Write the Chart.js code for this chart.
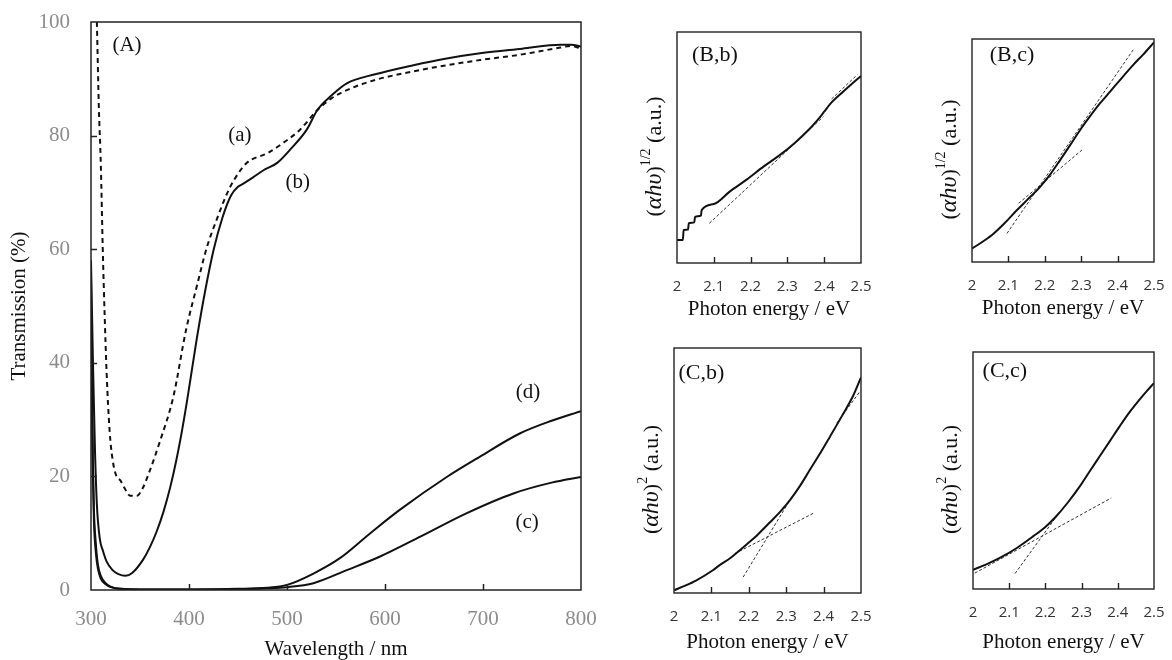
<!DOCTYPE html>
<html>
<head>
<meta charset="utf-8">
<script src="https://cdn.jsdelivr.net/npm/chart.js@4/dist/chart.umd.min.js"></script>
<style>
  body { margin: 0; background: #fff; width: 1172px; height: 660px; overflow: hidden; position: relative; }
  canvas { position: absolute; }
</style>
</head>
<body>
<canvas id="chartA" width="625" height="660" style="left:0;top:0"></canvas>
<canvas id="chartBb" width="254" height="320" style="left:627px;top:0"></canvas>
<canvas id="chartBc" width="250" height="319" style="left:922px;top:0"></canvas>
<canvas id="chartCb" width="257" height="333" style="left:624px;top:320px"></canvas>
<canvas id="chartCc" width="249" height="333" style="left:923px;top:320px"></canvas>
<script>
// transmission spectra, wavelength in nm, transmission in %
var waveA  = [306, 308, 310, 312, 314, 316, 319, 322, 326, 330, 334, 340, 347, 353, 360, 370, 384, 397, 408, 418, 430, 438, 446, 459, 480, 496, 513, 531, 545, 561, 590, 629, 660, 697, 740, 779, 790, 800];
var transA = [100, 85, 75, 60, 48, 38, 28, 23, 20, 19.3, 18, 16.6, 16.6, 18, 21, 26, 34, 45.8, 53.5, 60.2, 66, 69.5, 72.2, 75.2, 76.9, 78.7, 81, 84.5, 86.5, 88, 89.8, 91.3, 92.3, 93.3, 94.3, 95.5, 95.8, 95.3];

var waveB  = [300, 302, 304, 306, 309, 312, 316, 322, 328, 335, 342, 353, 360, 367, 374, 381, 387, 393, 398, 403, 408, 416, 425, 434, 443, 450, 455, 465, 476, 490, 503, 520, 531, 545, 561, 590, 629, 660, 697, 740, 779, 790, 800];
var transB = [58, 40, 25, 15, 9, 7, 5, 3.5, 2.8, 2.5, 3, 5.3, 7.5, 10.3, 13.8, 18.2, 22.8, 28.2, 33.3, 38.8, 44.3, 52.2, 59.8, 65.5, 69.5, 71.0, 71.5, 72.6, 73.9, 75.2, 77.5, 81, 84.5, 87, 89.2, 90.8, 92.4, 93.5, 94.5, 95.3, 96.0, 96.0, 95.7];

var waveC  = [300, 301, 302, 303, 305, 307, 310, 315, 320, 330, 350, 400, 450, 480, 500, 527, 561, 595, 636, 683, 731, 770, 800];
var transC = [50, 32, 20, 12, 6.5, 3.8, 2, 1, 0.5, 0.2, 0.1, 0.1, 0.15, 0.3, 0.5, 1.2, 3.5, 5.9, 9.4, 13.5, 17, 18.9, 19.9];

var waveD  = [300, 301, 302, 303, 305, 307, 310, 315, 320, 330, 350, 400, 450, 480, 500, 527, 554, 585, 615, 663, 697, 738, 770, 800];
var transD = [55, 35, 22, 14, 8, 4.5, 2.5, 1.2, 0.6, 0.2, 0.1, 0.1, 0.2, 0.4, 0.9, 2.9, 5.6, 10, 14.1, 19.9, 23.5, 27.6, 29.8, 31.5];

// Tauc plots, photon energy in eV, signal in arbitrary units
var energyBb = [2.0, 2.016, 2.018, 2.030, 2.032, 2.047, 2.049, 2.065, 2.067, 2.10, 2.144, 2.19, 2.235, 2.28, 2.32, 2.36, 2.38, 2.40, 2.416, 2.452, 2.5];
var signalBb = [10, 10, 14.3, 14.5, 17.2, 17.6, 20, 20.5, 22.9, 25.5, 31.0, 36.2, 41.7, 46.8, 52.0, 58.0, 61.5, 65.5, 68.8, 74.2, 81];
var fitBb1 = [[2.088, 17.2], [2.398, 63.4]];
var fitBb2 = [[2.42, 71.0], [2.49, 81.5]];

var energyBc = [2.0, 2.03, 2.059, 2.09, 2.123, 2.155, 2.187, 2.215, 2.242, 2.27, 2.297, 2.325, 2.352, 2.38, 2.407, 2.443, 2.47, 2.5];
var signalBc = [6.0, 9.2, 12.7, 17.5, 23.2, 28.4, 33.7, 39.3, 45.7, 52.5, 59.2, 65.5, 71.2, 76.5, 81.7, 88.4, 93, 98.5];
var fitBc1 = [[2.096, 12.8], [2.443, 95.2]];
var fitBc2 = [[2.128, 26.3], [2.302, 50.2]];

var energyCb = [2.0, 2.03, 2.06, 2.104, 2.123, 2.149, 2.163, 2.194, 2.225, 2.256, 2.283, 2.31, 2.336, 2.363, 2.39, 2.417, 2.45, 2.479, 2.5];
var signalCb = [1.1, 3.0, 5.2, 9.3, 11.5, 14.1, 15.8, 19.8, 24.0, 28.8, 33.0, 37.9, 43.5, 50.2, 56.8, 63.8, 72.5, 80.5, 88];
var fitCb1 = [[2.163, 16.1], [2.372, 32.5]];
var fitCb2 = [[2.185, 6.5], [2.31, 37.9]];
var fitCb3 = [[2.435, 69.3], [2.497, 82.2]];

var energyCc = [2.0, 2.037, 2.074, 2.12, 2.166, 2.2, 2.23, 2.262, 2.295, 2.322, 2.35, 2.378, 2.405, 2.432, 2.46, 2.48, 2.5];
var signalCc = [8.1, 10.4, 13.1, 17.2, 22.2, 26.2, 30.7, 36.5, 43.3, 49.6, 56.0, 62.4, 68.6, 74.5, 79.9, 83.5, 86.9];
var fitCc1 = [[2.005, 6.7], [2.382, 38.4]];
var fitCc2 = [[2.116, 6.5], [2.231, 30.7]];

var energyTicks = [2, 2.1, 2.2, 2.3, 2.4, 2.5];

Chart.defaults.font.family = '"Liberation Serif", "Times New Roman", serif';
Chart.defaults.color = '#111';

function pairs(xs, ys) {
  return xs.map(function (x, i) { return { x: x, y: ys[i] }; });
}

// fixed axis sizes, and no extra room reserved for overhanging labels
function fixWidth(w) {
  return function (s) { s.width = w; s.paddingTop = 0; s.paddingBottom = 0; };
}
function fixHeight(h) {
  return function (s) { s.height = h; s.paddingLeft = 0; s.paddingRight = 0; };
}

// short tick marks pointing into the plot, plus the frame around it
var innerTicks = {
  id: 'innerTicks',
  afterDraw: function (chart, args, opts) {
    var ctx = chart.ctx, a = chart.chartArea, x = chart.scales.x, y = chart.scales.y;
    ctx.save();
    ctx.strokeStyle = '#222';
    ctx.lineWidth = opts.width;
    ctx.beginPath();
    x.ticks.forEach(function (t) {
      if (t.value <= x.min || t.value >= x.max) return;
      var px = Math.round(x.getPixelForValue(t.value)) + 0.5;
      ctx.moveTo(px, a.bottom);
      ctx.lineTo(px, a.bottom - opts.len);
    });
    if (opts.yTicks) {
      y.ticks.forEach(function (t) {
        if (t.value <= y.min || t.value >= y.max) return;
        var py = Math.round(y.getPixelForValue(t.value)) + 0.5;
        ctx.moveTo(a.left, py);
        ctx.lineTo(a.left + opts.len, py);
      });
    }
    ctx.stroke();
    ctx.strokeRect(a.left, a.top, a.right - a.left, a.bottom - a.top);
    ctx.restore();
  }
};

// text labels placed at data coordinates
var curveLabels = {
  id: 'curveLabels',
  afterDraw: function (chart, args, opts) {
    var ctx = chart.ctx;
    ctx.save();
    ctx.fillStyle = '#111';
    ctx.textAlign = 'center';
    ctx.textBaseline = 'middle';
    ctx.font = opts.font;
    opts.items.forEach(function (it) {
      ctx.fillText(it.text, chart.scales.x.getPixelForValue(it.x), chart.scales.y.getPixelForValue(it.y));
    });
    ctx.restore();
  }
};

// rotated y title with italic symbols and a superscript
var taucTitle = {
  id: 'taucTitle',
  afterDraw: function (chart, args, opts) {
    var ctx = chart.ctx, a = chart.chartArea;
    var serif = '"Liberation Serif", "Times New Roman", serif';
    var parts = [
      { t: '(', f: '22px ' + serif, dy: 0 },
      { t: 'αhυ', f: 'italic 24px ' + serif, dy: 0 },
      { t: ')', f: '22px ' + serif, dy: 0 },
      { t: opts.power, f: '14px ' + serif, dy: -9 },
      { t: ' (a.u.)', f: '22px ' + serif, dy: 0 }
    ];
    ctx.save();
    var total = 0;
    parts.forEach(function (p) { ctx.font = p.f; p.w = ctx.measureText(p.t).width; total += p.w; });
    ctx.translate(a.left - 22, (a.top + a.bottom) / 2 + 9);
    ctx.rotate(-Math.PI / 2);
    ctx.fillStyle = '#111';
    ctx.textBaseline = 'middle';
    ctx.textAlign = 'left';
    var cx = -total / 2;
    parts.forEach(function (p) {
      ctx.font = p.f;
      ctx.fillText(p.t, cx, p.dy);
      cx += p.w;
    });
    ctx.restore();
  }
};

new Chart(document.getElementById('chartA'), {
  type: 'line',
  data: {
    datasets: [
      { data: pairs(waveA, transA), borderDash: [5, 4] },
      { data: pairs(waveB, transB) },
      { data: pairs(waveC, transC) },
      { data: pairs(waveD, transD) }
    ]
  },
  options: {
    responsive: false,
    animation: false,
    events: [],
    layout: { padding: { top: 22, right: 44, left: 0, bottom: 0 } },
    elements: {
      point: { radius: 0 },
      line: { borderWidth: 2, borderColor: '#111', cubicInterpolationMode: 'monotone' }
    },
    plugins: {
      legend: { display: false },
      tooltip: { enabled: false },
      innerTicks: { len: 6, width: 1.5, yTicks: true },
      curveLabels: {
        font: '21px "Liberation Serif", serif',
        items: [
          { text: '(A)', x: 336.7, y: 95.9 },
          { text: '(a)', x: 452, y: 80.1 },
          { text: '(b)', x: 511, y: 71.8 },
          { text: '(d)', x: 746, y: 34.7 },
          { text: '(c)', x: 745, y: 11.8 }
        ]
      }
    },
    scales: {
      x: {
        type: 'linear', min: 300, max: 800,
        afterFit: fixHeight(70),
        grid: { display: false, drawTicks: false },
        border: { display: false },
        ticks: { stepSize: 100, padding: 17, color: '#8c8c8c', font: { size: 21 } },
        title: { display: true, text: 'Wavelength / nm', color: '#111', font: { size: 21, lineHeight: 1 }, padding: { top: 0, bottom: 0 } }
      },
      y: {
        min: 0, max: 100,
        afterFit: fixWidth(91),
        grid: { display: false, drawTicks: false },
        border: { display: false },
        ticks: { stepSize: 20, padding: 21, color: '#8c8c8c', font: { size: 21 } },
        title: { display: true, text: 'Transmission (%)', color: '#111', font: { size: 21, lineHeight: 1 }, padding: { top: 8.5, bottom: 0 } }
      }
    }
  },
  plugins: [innerTicks, curveLabels]
});

function taucPanel(id, energy, signal, fits, panelText, power, layout) {
  var sets = [{ data: pairs(energy, signal), borderWidth: 2, borderColor: '#111', cubicInterpolationMode: 'monotone' }];
  fits.forEach(function (f) {
    sets.push({
      data: f.map(function (p) { return { x: p[0], y: p[1] }; }),
      borderWidth: 1, borderColor: '#333', borderDash: [3, 2], tension: 0
    });
  });
  return new Chart(document.getElementById(id), {
    type: 'line',
    data: { datasets: sets },
    options: {
      responsive: false,
      animation: false,
      events: [],
      layout: { padding: { top: layout.top, right: layout.right, left: 0, bottom: 0 } },
      elements: { point: { radius: 0 } },
      plugins: {
        legend: { display: false },
        tooltip: { enabled: false },
        innerTicks: { len: 6, width: 1.4, yTicks: false },
        taucTitle: { power: power },
        curveLabels: { font: '22px "Liberation Serif", serif', items: [panelText] }
      },
      scales: {
        x: {
          type: 'linear', min: 2, max: 2.5,
          afterFit: fixHeight(layout.xAxis),
          afterBuildTicks: function (s) { s.ticks = energyTicks.map(function (v) { return { value: v }; }); },
          grid: { display: false, drawTicks: false },
          border: { display: false },
          ticks: {
            autoSkip: false, padding: 15, color: '#333',
            font: { family: '"Open Sans", "Noto Sans", sans-serif', size: 15 },
            callback: function (v) { return String(Math.round(v * 10) / 10); }
          },
          title: { display: true, text: 'Photon energy / eV', color: '#111', font: { size: 21, lineHeight: 1 }, padding: { top: 0, bottom: 0 } }
        },
        y: {
          min: 0, max: 100,
          afterFit: fixWidth(50),
          grid: { display: false, drawTicks: false },
          border: { display: false },
          ticks: { display: false }
        }
      }
    },
    plugins: [innerTicks, curveLabels, taucTitle]
  });
}

taucPanel('chartBb', energyBb, signalBb, [fitBb1, fitBb2], { text: '(B,b)', x: 2.103, y: 90 }, '1/2', { top: 32, right: 20, xAxis: 57 });
taucPanel('chartBc', energyBc, signalBc, [fitBc1, fitBc2], { text: '(B,c)', x: 2.11, y: 92.9 }, '1/2', { top: 39, right: 18, xAxis: 57 });
taucPanel('chartCb', energyCb, signalCb, [fitCb1, fitCb2, fitCb3], { text: '(C,b)', x: 2.073, y: 89.8 }, '2', { top: 28, right: 20, xAxis: 60 });
taucPanel('chartCc', energyCc, signalCc, [fitCc1, fitCc2], { text: '(C,c)', x: 2.088, y: 91.8 }, '2', { top: 32, right: 18, xAxis: 64 });
</script>
</body>
</html>
